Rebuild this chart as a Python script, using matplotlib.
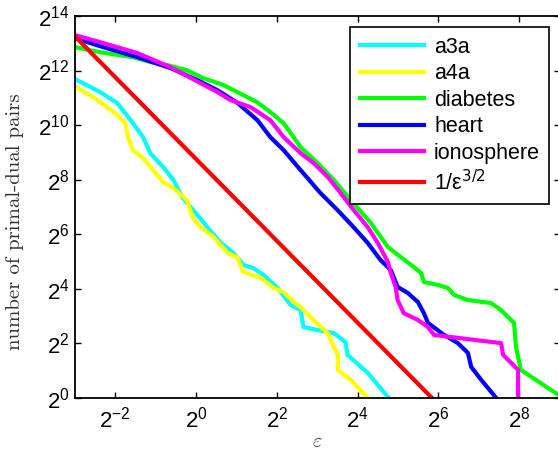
import numpy as np
import matplotlib
matplotlib.use("Agg")
import matplotlib.pyplot as plt
from matplotlib.ticker import FixedLocator, LogFormatterMathtext, NullLocator

plt.rcParams['font.family'] = ['Liberation Sans', 'DejaVu Sans']

# values, stored as log2 exponents
a3a_x = [-3.0, -2.37, -1.95, -1.56, -1.31, -1.13, -0.81, -0.56, -0.34, -0.07, 0.18, 0.28,
         0.60, 0.93, 1.18, 1.42, 1.67, 2.02, 2.34, 2.59, 2.66, 3.01, 3.41, 3.70, 3.75, 4.25, 4.77]
a3a_y = [11.69, 11.21, 10.81, 10.07, 9.56, 8.97, 8.46, 7.99, 7.36, 6.89, 6.45, 6.26,
         5.71, 5.31, 4.87, 4.76, 4.51, 4.03, 3.41, 3.22, 2.60, 2.49, 2.38, 2.05, 1.58, 0.92, 0.0]

a4a_x = [-3.0, -2.55, -2.20, -1.95, -1.75, -1.68, -1.56, -1.31, -1.06, -0.81, -0.56, -0.22,
         -0.09, 0.11, 0.43, 0.78, 1.02, 1.17, 1.60, 1.92, 2.17, 2.42, 2.59, 2.96, 3.26, 3.41,
         3.51, 3.51, 3.83, 4.25]
a4a_y = [11.42, 11.03, 10.66, 10.37, 10.07, 9.56, 9.08, 8.79, 8.35, 7.91, 7.69, 7.25,
         6.63, 6.26, 5.90, 5.31, 5.16, 4.62, 4.40, 4.03, 3.88, 3.52, 3.33, 2.78, 2.38, 1.87,
         1.58, 1.03, 0.66, 0.0]

diabetes_x = [-3.0, -2.37, -1.56, -1.13, -0.71, -0.22, 0.18, 0.68, 1.17, 1.50, 1.84, 2.17,
              2.59, 3.01, 3.41, 3.83, 4.33, 4.75, 5.07, 5.39, 5.57, 5.64, 5.99, 6.24, 6.39,
              6.73, 7.30, 7.55, 7.72, 7.87, 7.92, 8.04, 9.0]
diabetes_y = [12.86, 12.67, 12.49, 12.31, 12.20, 12.01, 11.72, 11.47, 11.10, 10.85, 10.48, 10.07,
              9.19, 8.61, 7.99, 7.25, 6.41, 5.53, 5.16, 4.80, 4.58, 4.25, 4.14, 4.03, 3.77,
              3.59, 3.48, 3.22, 2.97, 2.75, 1.87, 1.03, 0.08]

heart_x = [-3.0, -2.30, -1.45, -0.63, 0.03, 0.53, 1.03, 1.52, 1.84, 2.17, 2.59, 3.08, 3.50,
           3.90, 4.25, 4.57, 4.82, 4.99, 5.24, 5.49, 5.64, 5.74, 6.14, 6.48, 6.73, 6.81, 7.06, 7.43]
heart_y = [13.19, 12.86, 12.49, 12.09, 11.65, 11.28, 10.81, 10.18, 9.56, 9.08, 8.35, 7.51, 6.89,
           6.26, 5.68, 5.05, 4.69, 4.07, 3.85, 3.52, 3.11, 2.75, 2.31, 2.01, 1.65, 1.14, 0.66, 0.0]

iono_x = [-3.0, -2.30, -1.45, -0.63, 0.11, 0.53, 0.85, 1.35, 1.84, 2.17, 2.59, 2.91,
          3.26, 3.58, 3.90, 4.25, 4.50, 4.75, 4.82, 4.94, 4.99, 5.14, 5.49, 5.74, 5.89, 7.55,
          7.60, 7.97, 7.97]
iono_y = [13.30, 13.01, 12.64, 12.12, 11.54, 11.21, 10.92, 10.66, 10.18, 9.56, 8.97, 8.61,
          8.10, 7.51, 6.89, 6.26, 5.68, 4.98, 4.58, 4.07, 3.59, 3.11, 2.86, 2.60, 2.31, 2.01,
          1.58, 1.03, 0.0]

ref_x = [-3.0, 5.84]
ref_y = [13.26, 0.0]

series = [
    ("a3a", a3a_x, a3a_y, (0, 1, 1)),
    ("a4a", a4a_x, a4a_y, (1, 1, 0)),
    ("diabetes", diabetes_x, diabetes_y, (0, 1, 0)),
    ("heart", heart_x, heart_y, (0, 0, 1)),
    ("ionosphere", iono_x, iono_y, (1, 0, 1)),
    ("1/\u03b5$^{3/2}$", ref_x, ref_y, (1, 0, 0)),
]

fig = plt.figure(figsize=(5.58, 4.5), dpi=100)
ax = fig.add_axes([0.134, 0.1156, 0.869, 0.8489])

for name, lx, ly, c in series:
    ax.plot(2.0 ** np.array(lx), 2.0 ** np.array(ly), color=c, lw=3, label=name)

ax.set_xscale('log', base=2)
ax.set_yscale('log', base=2)
ax.set_xlim(2.0 ** -3, 2.0 ** 9)
ax.set_ylim(2.0 ** 0, 2.0 ** 14)

ax.xaxis.set_major_locator(FixedLocator(2.0 ** np.arange(-2, 9, 2)))
ax.yaxis.set_major_locator(FixedLocator(2.0 ** np.arange(0, 15, 2)))
ax.xaxis.set_minor_locator(NullLocator())
ax.yaxis.set_minor_locator(NullLocator())
ax.xaxis.set_major_formatter(LogFormatterMathtext(base=2))
ax.yaxis.set_major_formatter(LogFormatterMathtext(base=2))
ax.tick_params(direction='in', top=True, right=True, length=4, width=1,
               labelsize=16, colors='black')
ax.tick_params(axis='x', pad=6)
ax.tick_params(axis='y', pad=4)
for s in ax.spines.values():
    s.set_linewidth(1.3)

ax.set_xlabel(r'$\varepsilon$', fontsize=15, math_fontfamily='cm', color='#444444')
ax.xaxis.set_label_coords(0.5, -0.088)
ax.set_ylabel('number of primal-dual pairs', family='cmr10', fontsize=15, color='#333333')
ax.yaxis.set_label_coords(-0.105, 0.462)

leg = ax.legend(loc='upper right', bbox_to_anchor=(0.979, 0.971), borderaxespad=0,
                fontsize=15.5, frameon=True, fancybox=False, handlelength=3.0,
                handletextpad=0.45, labelspacing=0.26, borderpad=0.44)
leg.get_frame().set_edgecolor('black')
leg.get_frame().set_linewidth(1.2)
leg.get_frame().set_alpha(1)

fig.savefig('out.png', dpi=100)
